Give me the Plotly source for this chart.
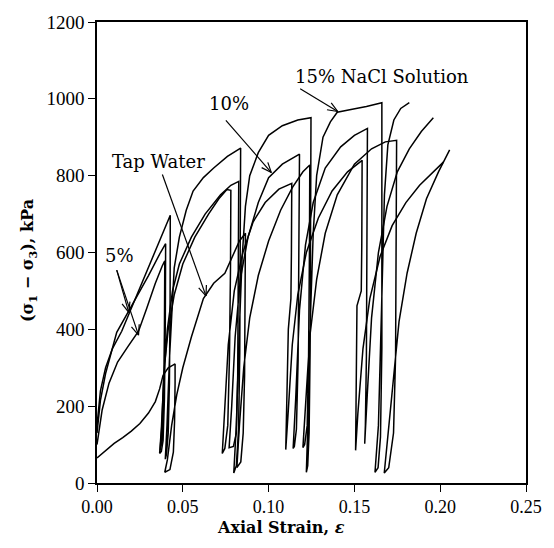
import math
import plotly.graph_objects as go

# ---- data ----
# 15% NaCl solution
nacl15_strain = [0, 0.002, 0.005, 0.009, 0.0144, 0.02, 0.027, 0.034, 0.040, 0.0427,
                 0.0426, 0.0422, 0.0415, 0.0405, 0.0398,
                 0.0408, 0.0422, 0.0435, 0.045, 0.048, 0.052, 0.056, 0.062, 0.068, 0.076, 0.0837,
                 0.0836, 0.0832, 0.0825, 0.0812, 0.0797,
                 0.0812, 0.0828, 0.0845, 0.0865, 0.089, 0.094, 0.100, 0.108, 0.117, 0.1247,
                 0.1246, 0.1242, 0.1236, 0.1228, 0.122,
                 0.1232, 0.1245, 0.126, 0.128, 0.1317, 0.136, 0.140, 0.148, 0.157, 0.166,
                 0.1662, 0.166, 0.1652, 0.1638, 0.162,
                 0.164, 0.1658, 0.1675, 0.1695, 0.173, 0.177, 0.182]
nacl15_stress = [150, 240, 300, 350, 395, 455, 530, 605, 670, 697,
                 480, 260, 130, 75, 62,
                 150, 320, 450, 560, 640, 710, 760, 795, 820, 850, 872,
                 620, 340, 140, 45, 26,
                 150, 380, 580, 720, 800, 860, 905, 930, 945, 951,
                 650, 350, 130, 45, 28,
                 200, 450, 650, 800, 900, 940, 965, 972, 980, 990,
                 650, 350, 120, 40, 28,
                 150, 450, 750, 880, 945, 975, 990]

# 10% NaCl solution
nacl10_strain = [0, 0.002, 0.005, 0.0115, 0.02, 0.03, 0.037, 0.040,
                 0.0398, 0.0393, 0.0385, 0.0375, 0.0365,
                 0.0375, 0.039, 0.041, 0.044, 0.048, 0.055, 0.063, 0.072, 0.078, 0.0826,
                 0.0824, 0.082, 0.0812, 0.0795, 0.077,
                 0.0785, 0.0805, 0.0835, 0.088, 0.094, 0.100, 0.108, 0.118,
                 0.1178, 0.1172, 0.1162, 0.115, 0.1143,
                 0.1158, 0.118, 0.1215, 0.126, 0.133, 0.142, 0.150, 0.1576,
                 0.1575, 0.157, 0.1564, 0.156,
                 0.1575, 0.160, 0.164, 0.169, 0.175, 0.182, 0.189, 0.196]
nacl10_stress = [130, 215, 285, 392, 460, 540, 600, 623,
                 420, 220, 110, 82, 77,
                 140, 280, 400, 500, 570, 640, 700, 750, 775, 785,
                 520, 280, 130, 95, 92,
                 200, 380, 530, 640, 730, 795, 830, 856,
                 600, 320, 140, 95, 90,
                 220, 450, 620, 730, 820, 875, 905, 923,
                 620, 330, 150, 102,
                 230, 430, 600, 720, 810, 870, 915, 951]

# 5% NaCl solution
nacl5_strain = [0, 0.003, 0.007, 0.012, 0.018, 0.0242, 0.029, 0.034, 0.038, 0.0395,
                0.0393, 0.0388, 0.038, 0.0372, 0.0368,
                0.0378, 0.039, 0.0415, 0.045, 0.050, 0.057, 0.065, 0.071, 0.0757, 0.078,
                0.0778, 0.0772, 0.0762, 0.0745, 0.073,
                0.0742, 0.0765, 0.080, 0.085, 0.091, 0.098, 0.106, 0.1135,
                0.1133, 0.113, 0.1115, 0.111, 0.1103, 0.110,
                0.1115, 0.1138, 0.117, 0.122, 0.129, 0.137, 0.146, 0.1545,
                0.1543, 0.154, 0.1515, 0.151, 0.1507, 0.1507,
                0.152, 0.155, 0.159, 0.165, 0.172, 0.180, 0.188, 0.196, 0.202]
nacl5_stress = [100, 190, 260, 315, 355, 395, 455, 520, 565, 578,
                400, 210, 110, 88, 85,
                150, 290, 400, 490, 570, 640, 700, 740, 764, 762,
                560, 330, 150, 90, 77,
                180, 360, 500, 600, 680, 730, 765, 780,
                600, 480, 400, 300, 150, 87,
                190, 360, 490, 600, 690, 760, 810, 840,
                620, 500, 461, 300, 150, 85,
                180, 350, 480, 590, 670, 730, 775, 810, 836]

# Tap water
tap_strain = [0, 0.005, 0.01, 0.015, 0.02, 0.025, 0.03, 0.034, 0.0365, 0.0385, 0.0415, 0.044, 0.0455,
              0.0455, 0.0452, 0.0445, 0.0425, 0.0395,
              0.041, 0.0435, 0.0465, 0.050, 0.055, 0.062, 0.068, 0.0745, 0.079, 0.083, 0.0865,
              0.0864, 0.086, 0.0852, 0.0838, 0.0815,
              0.083, 0.0855, 0.089, 0.094, 0.100, 0.107, 0.114, 0.120, 0.124,
              0.1238, 0.1233, 0.1225, 0.121, 0.120,
              0.1215, 0.124, 0.128, 0.133, 0.140, 0.150, 0.160, 0.168, 0.1746,
              0.1744, 0.174, 0.1728, 0.170, 0.1674,
              0.169, 0.172, 0.176, 0.1807, 0.186, 0.192, 0.199, 0.2055]
tap_stress = [65, 85, 103, 118, 135, 155, 182, 212, 245, 280, 300, 306, 310,
              260, 160, 80, 35, 28,
              60, 150, 230, 300, 380, 480, 520, 546, 590, 630, 650,
              480, 280, 130, 55, 40,
              150, 300, 430, 540, 630, 710, 770, 810, 828,
              600, 330, 150, 100, 92,
              200, 380, 530, 650, 750, 830, 870, 888, 892,
              620, 330, 130, 40, 26,
              100, 250, 420, 546, 650, 740, 810, 867]

series = [
    ("15% NaCl Solution", nacl15_strain, nacl15_stress),
    ("10%", nacl10_strain, nacl10_stress),
    ("5%", nacl5_strain, nacl5_stress),
    ("Tap Water", tap_strain, tap_stress),
]

x_ticks = [0.00, 0.05, 0.10, 0.15, 0.20, 0.25]
y_ticks = [0, 200, 400, 600, 800, 1000, 1200]

TICK_FONT = "Liberation Serif"
LABEL_FONT = "DejaVu Serif"

W, H = 554, 548
ML, MR, MT, MB = 97, 24, 15, 65
X_RANGE = [0, 0.25]
Y_RANGE = [0, 1200]
px_per_x = (W - ML - MR) / (X_RANGE[1] - X_RANGE[0])
px_per_y = (H - MT - MB) / (Y_RANGE[1] - Y_RANGE[0])

fig = go.Figure()
for name, xs, ys in series:
    fig.add_trace(go.Scatter(x=xs, y=ys, mode="lines", name=name,
                             line=dict(color="black", width=1.5),
                             showlegend=False, hoverinfo="skip"))

# text labels
labels = [
    ("15% NaCl Solution", 0.1663, 1059),
    ("10%", 0.0768, 987),
    ("Tap Water", 0.0358, 838),
    ("5%", 0.0133, 592),
]
for txt, lx, ly in labels:
    fig.add_annotation(x=lx, y=ly, xref="x", yref="y", text=txt, showarrow=False,
                       font=dict(family=LABEL_FONT, size=18, color="black"))

# arrows (tail -> tip), drawn as line shapes with an open "V" head
arrows = [
    (0.1184, 1026, 0.1403, 967),
    (0.0751, 944, 0.1016, 808),
    (0.0381, 803, 0.0635, 487),
    (0.0115, 554, 0.0185, 444),
    (0.0115, 554, 0.0242, 385),
]
shapes = []
line_style = dict(color="black", width=1.2)
for tx, ty, hx, hy in arrows:
    shapes.append(dict(type="line", xref="x", yref="y", x0=tx, y0=ty, x1=hx, y1=hy,
                       line=line_style))
    dx = (hx - tx) * px_per_x
    dy = (hy - ty) * px_per_y
    n = math.hypot(dx, dy)
    ux, uy = dx / n, dy / n
    L = 11
    for ang in (math.radians(22), -math.radians(22)):
        rx = ux * math.cos(ang) - uy * math.sin(ang)
        ry = ux * math.sin(ang) + uy * math.cos(ang)
        bx = hx - L * rx / px_per_x
        by = hy - L * ry / px_per_y
        shapes.append(dict(type="line", xref="x", yref="y", x0=hx, y0=hy, x1=bx, y1=by,
                           line=line_style))

# axis titles placed as annotations (positions)
fig.add_annotation(xref="paper", yref="paper", x=(283 - ML) / (W - ML - MR),
                   y=-(528 - (H - MB)) / (H - MT - MB),
                   text="<b>Axial Strain, <i>ε</i></b>", showarrow=False,
                   xanchor="center", yanchor="middle",
                   font=dict(family=LABEL_FONT, size=16, color="black"))
fig.add_annotation(xref="paper", yref="paper", x=(28 - ML) / (W - ML - MR),
                   y=((H - MB) - 257) / (H - MT - MB), textangle=-90,
                   text="<b>(σ<sub>1</sub> − σ<sub>3</sub>), kPa</b>", showarrow=False,
                   xanchor="center", yanchor="middle",
                   font=dict(family=LABEL_FONT, size=16, color="black"))

fig.update_layout(
    width=W, height=H,
    margin=dict(l=ML, r=MR, t=MT, b=MB),
    paper_bgcolor="white", plot_bgcolor="white",
    font=dict(family=TICK_FONT, size=18, color="black"),
    shapes=shapes,
)
fig.update_xaxes(range=X_RANGE, tickvals=x_ticks, ticktext=[f"{v:.2f}" for v in x_ticks],
                 showgrid=False, zeroline=False, showline=True, linecolor="black", linewidth=1.5,
                 mirror=True, ticks="outside", ticklen=7, tickwidth=1.3, tickcolor="black",
                 tickfont=dict(family=TICK_FONT, size=18))
fig.update_yaxes(range=Y_RANGE, tickvals=y_ticks,
                 showgrid=False, zeroline=False, showline=True, linecolor="black", linewidth=1.5,
                 mirror=True, ticks="outside", ticklen=7, tickwidth=1.3, tickcolor="black",
                 tickfont=dict(family=TICK_FONT, size=19))

fig.write_html("out.html")
